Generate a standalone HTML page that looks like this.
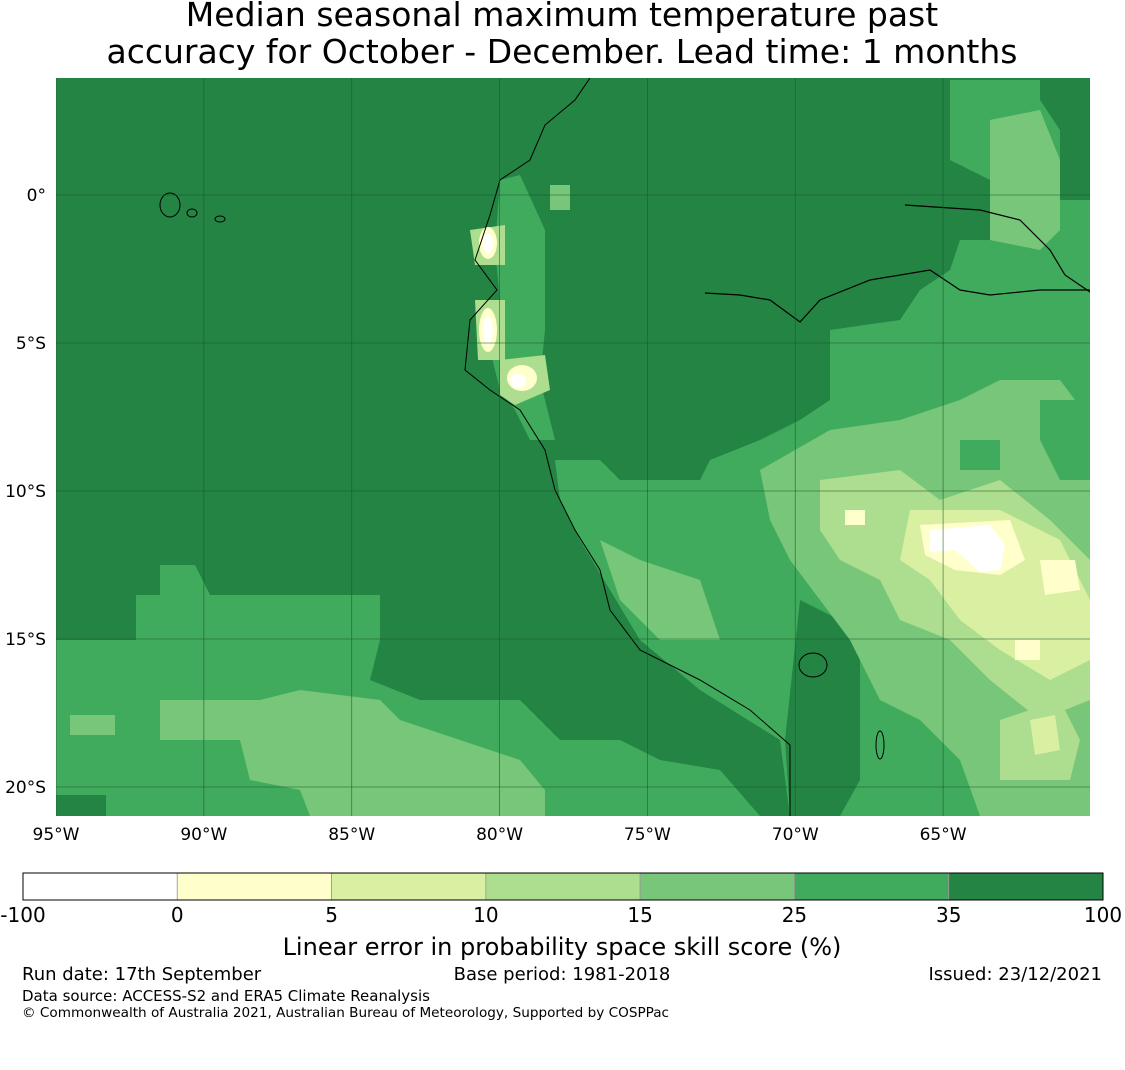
<!DOCTYPE html>
<html><head><meta charset="utf-8"><style>
body{margin:0;background:#fff;font-family:"Liberation Sans","DejaVu Sans",sans-serif;}
svg text{font-family:"DejaVu Sans","Liberation Sans",sans-serif;}
</style></head><body>
<svg width="1125" height="1065" viewBox="0 0 1125 1065">
<text x="562" y="26" font-size="33" text-anchor="middle">Median seasonal maximum temperature past</text>
<text x="562" y="63" font-size="33" text-anchor="middle">accuracy for October - December. Lead time: 1 months</text>
<defs><clipPath id="mc"><rect x="56" y="78" width="1034" height="738"/></clipPath></defs>
<g clip-path="url(#mc)">
<rect x="56" y="78" width="1034" height="738" fill="#238443"/>
<polygon fill="#41ab5d" points="56,640 136,640 136,595 160,595 160,565 195,565 210,595 380,595 380,640 370,680 420,700 520,700 560,740 620,740 660,760 720,770 760,816 56,816"/>
<polygon fill="#238443" points="56,795 106,795 106,816 56,816"/>
<polygon fill="#78c679" points="160,700 260,700 300,690 380,700 400,720 460,740 520,760 545,790 545,816 310,816 300,790 250,780 240,740 160,740"/>
<polygon fill="#78c679" points="70,715 115,715 115,735 70,735"/>
<polygon fill="#41ab5d" points="950,80 1040,80 1040,100 1060,130 1060,200 1090,200 1090,816 790,816 780,740 700,690 640,640 610,590 580,540 560,500 555,460 600,460 620,480 700,480 710,460 760,440 800,420 830,400 830,330 900,320 920,290 950,270 960,240 990,240 990,180 950,160"/>
<polygon fill="#78c679" points="990,120 1040,110 1060,160 1060,230 1040,250 990,240"/>
<polygon fill="#238443" points="1050,80 1090,80 1090,160 1075,160 1050,110"/>
<polygon fill="#238443" points="800,600 840,620 860,660 860,780 840,816 790,816 785,740"/>
<polygon fill="#78c679" points="760,470 830,430 900,420 960,400 1000,380 1060,380 1090,420 1090,816 980,816 960,760 920,720 880,700 850,640 820,600 790,560 770,520"/>
<polygon fill="#41ab5d" points="960,440 1000,440 1000,470 960,470"/>
<polygon fill="#41ab5d" points="1040,400 1090,400 1090,480 1060,480 1040,440"/>
<polygon fill="#addd8e" points="820,480 900,470 940,500 1000,480 1050,520 1090,560 1090,700 1040,720 990,680 950,640 900,620 880,580 840,560 820,530"/>
<polygon fill="#addd8e" points="1000,720 1060,700 1080,740 1070,780 1000,780"/>
<polygon fill="#d9f0a3" points="910,510 1000,510 1060,540 1090,600 1090,660 1050,680 1000,650 960,620 930,580 900,560"/>
<polygon fill="#d9f0a3" points="1030,720 1055,715 1060,750 1035,755"/>
<polygon fill="#ffffcc" points="920,525 1010,520 1025,560 1000,575 955,570 925,555"/>
<polygon fill="#ffffcc" points="1040,560 1075,560 1080,590 1045,595"/>
<polygon fill="#ffffcc" points="1015,640 1040,640 1040,660 1015,660"/>
<polygon fill="#ffffcc" points="845,510 865,510 865,525 845,525"/>
<polygon fill="#ffffff" points="930,530 990,525 1005,545 1000,570 980,572 955,550 930,552"/>
<polygon fill="#41ab5d" points="500,180 520,175 545,230 545,330 540,380 555,440 530,440 515,410 500,390 490,350 500,300 495,250"/>
<polygon fill="#78c679" points="550,185 570,185 570,210 550,210"/>
<polygon fill="#78c679" points="600,540 640,560 700,580 720,640 660,640 620,600"/>
<polygon fill="#addd8e" points="470,230 505,225 505,265 475,265"/>
<ellipse cx="488" cy="243" rx="9" ry="16" fill="#ffffcc"/><ellipse cx="488" cy="243" rx="5" ry="10" fill="#fff"/>
<polygon fill="#addd8e" points="475,300 505,300 505,360 478,360"/>
<ellipse cx="488" cy="330" rx="9" ry="22" fill="#ffffcc"/><ellipse cx="488" cy="330" rx="5" ry="14" fill="#fff"/>
<polygon fill="#addd8e" points="500,360 545,355 550,390 515,405 500,395"/>
<ellipse cx="522" cy="378" rx="15" ry="13" fill="#ffffcc"/><ellipse cx="518" cy="381" rx="8" ry="7" fill="#fff"/>
<polyline fill="none" stroke="#000" stroke-width="1" points="590,78 575,100 545,125 530,160 500,180 490,215 475,260 497,290 470,320 465,370 490,390 520,410 545,450 555,490 575,530 600,570 610,610 640,650 700,680 750,710 790,745 790,816"/>
<polyline fill="none" stroke="#000" stroke-width="1.2" points="705,293 740,295 770,300 800,322 820,300 870,280 930,270 960,290 990,295 1040,290 1090,290"/>
<polyline fill="none" stroke="#000" stroke-width="1.2" points="905,205 980,210 1020,220 1050,250 1065,275 1090,292"/>
<g fill="none" stroke="#000" stroke-width="1"><ellipse cx="170" cy="205" rx="10" ry="12"/><ellipse cx="192" cy="213" rx="5" ry="4"/><ellipse cx="220" cy="219" rx="5" ry="3"/><ellipse cx="813" cy="665" rx="14" ry="12"/><ellipse cx="880" cy="745" rx="4" ry="14"/></g>
<g id="grid" stroke="#1a5a2a" stroke-width="0.8" stroke-opacity="0.7"></g>
</g>
<g id="lab" font-size="17"></g>
<g id="cbar"></g>
<text x="562" y="955" font-size="24" text-anchor="middle">Linear error in probability space skill score (%)</text>
<text x="22" y="980" font-size="18">Run date: 17th September</text>
<text x="562" y="980" font-size="18" text-anchor="middle">Base period: 1981-2018</text>
<text x="1102" y="980" font-size="18" text-anchor="end">Issued: 23/12/2021</text>
<text x="22" y="1001" font-size="15">Data source: ACCESS-S2 and ERA5 Climate Reanalysis</text>
<text x="22" y="1017" font-size="13.6">© Commonwealth of Australia 2021, Australian Bureau of Meteorology, Supported by COSPPac</text>
</svg>
<script>
const lons=[95,90,85,80,75,70,65];
const lats=[0,5,10,15,20];
const bounds=["-100","0","5","10","15","25","35","100"];
const colors=["#ffffff","#ffffcc","#d9f0a3","#addd8e","#78c679","#41ab5d","#238443"];
const NS="http://www.w3.org/2000/svg";
const xL=lo=>56+(95-lo)*29.57, yL=la=>195+la*29.6;
const g=document.getElementById('grid'), lab=document.getElementById('lab'), cb=document.getElementById('cbar');
function mk(t,a,p){const e=document.createElementNS(NS,t);for(const k in a)e.setAttribute(k,a[k]);p.appendChild(e);return e;}
lons.forEach(lo=>{const x=xL(lo);
 const l=mk('line',{x1:x,x2:x,y1:78,y2:816},g);
 
 
 const t=mk('text',{x:x,y:840,'text-anchor':'middle'},lab);t.textContent=lo+'°W';
 
 });
lats.forEach(la=>{const y=yL(la);
 const l=mk('line',{x1:56,x2:1090,y1:y,y2:y},g);
 
 
 const t=mk('text',{x:46,y:y+6,'text-anchor':'end'},lab);t.textContent=la===0?'0°':la+'°S';
 
 });
const cx0=23,cw=1080/colors.length;
colors.forEach((c,i)=>{const r=mk('rect',{x:cx0+i*cw,y:873,width:cw,height:27,fill:c,stroke:'#999','stroke-width':0.8},cb);
 
 });
mk('rect',{x:23,y:873,width:1080,height:27,fill:'none',stroke:'#000','stroke-width':1},cb);
bounds.forEach((b,i)=>{const t=mk('text',{x:cx0+i*cw,y:922,'font-size':20,'text-anchor':'middle'},cb);t.textContent=b;
 
 });
</script>
</body></html>
